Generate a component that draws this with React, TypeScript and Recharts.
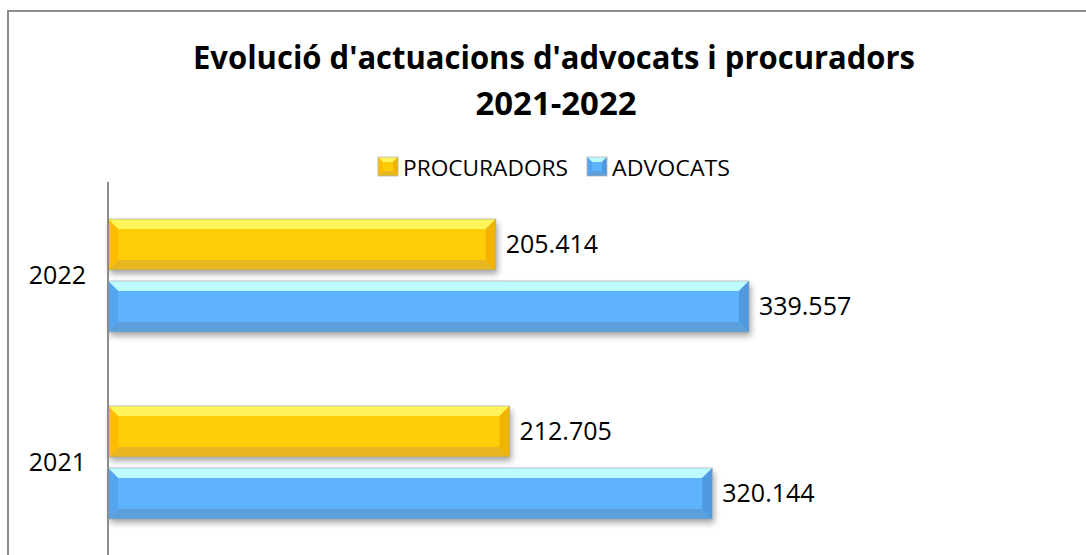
import { Bar, BarChart, LabelList, Legend, XAxis, YAxis } from "recharts";

const years = ["2022", "2021"];
const procuradors = [205414, 212705];
const advocats = [339557, 320144];
const xTicks = [0, 100000, 200000, 300000, 400000];
const seriesOrder = ["procuradors", "advocats"];

const data = years.map((year, i) => ({ year, procuradors: procuradors[i], advocats: advocats[i] }));

const palettes: Record<string, any> = {
  procuradors: { main: "#FFCC08", top: "#FFF45A", bottom: "#E8B61E", left: "#FFBC00", right: "#F0B400" },
  advocats: { main: "#5FB3FD", top: "#BDFCFF", bottom: "#5B9FDD", left: "#55A4EE", right: "#4E99DF" },
};

const legendWidths: Record<string, number> = { PROCURADORS: 165, ADVOCATS: 118 };

const fontFamily = "'Open Sans', 'Noto Sans', sans-serif";

const fmt = (v: any) => String(v).replace(/\B(?=(\d{3})+(?!\d))/g, ".");

function bevelPaths(x: number, y: number, w: number, h: number, b: number) {
  return {
    top: `M${x},${y}L${x + w},${y}L${x + w - b},${y + b}L${x + b},${y + b}Z`,
    bottom: `M${x},${y + h}L${x + w},${y + h}L${x + w - b},${y + h - b}L${x + b},${y + h - b}Z`,
    left: `M${x},${y}L${x + b},${y + b}L${x + b},${y + h - b}L${x},${y + h}Z`,
    right: `M${x + w},${y}L${x + w - b},${y + b}L${x + w - b},${y + h - b}L${x + w},${y + h}Z`,
  };
}

function BevelBar(props: any) {
  const { x, y, width, height, pal } = props;
  if (!width || !height) return null;
  const b = 10;
  const p = bevelPaths(x, y, width, height, b);
  return (
    <g>
      <rect x={x} y={y} width={width} height={height} fill="#fff" filter="url(#barShadow)" />
      <rect x={x} y={y} width={width} height={height} fill={pal.main} />
      <path d={p.top} fill={pal.top} />
      <path d={p.bottom} fill={pal.bottom} />
      <path d={p.left} fill={pal.left} />
      <path d={p.right} fill={pal.right} />
      <rect x={x} y={y} width={width} height={height} fill="none" stroke="#9aa7ad" strokeOpacity={0.6} strokeWidth={1} />
    </g>
  );
}

function LegendContent(props: any) {
  const items = [...(props.payload || [])].sort(
    (a: any, b: any) => seriesOrder.indexOf(a.dataKey) - seriesOrder.indexOf(b.dataKey)
  );
  let cx = 378;
  return (
    <div style={{ position: "relative", height: 0 }}>
      <svg width={1086} height={40} style={{ position: "absolute", left: 0, top: 150 }}>
        {items.map((it: any) => {
          const pal = palettes[it.dataKey];
          const tw = legendWidths[it.value] || 120;
          const x0 = cx;
          cx += 20 + 5 + tw + 19;
          const p = bevelPaths(x0, 7, 20, 19, 5);
          return (
            <g key={it.value}>
              <rect x={x0} y={7} width={20} height={19} fill={pal.main} />
              <path d={p.top} fill={pal.top} />
              <path d={p.bottom} fill={pal.bottom} />
              <path d={p.left} fill={pal.left} />
              <path d={p.right} fill={pal.right} />
              <rect x={x0} y={7} width={20} height={19} fill="none" stroke="#b5b5b5" strokeWidth={0.8} />
              <text
                x={x0 + 25}
                y={26}
                fontSize={22}
                fontFamily={fontFamily}
                fill="#000"
                textLength={tw}
                lengthAdjust="spacingAndGlyphs"
              >
                {it.value}
              </text>
            </g>
          );
        })}
      </svg>
    </div>
  );
}

export default function App() {
  return (
    <div style={{ position: "absolute", left: 0, top: 0, width: 1086, height: 555, overflow: "hidden", background: "#fff" }}>
      <div
        style={{
          position: "absolute",
          left: 7,
          top: 10,
          width: 1200,
          height: 700,
          borderLeft: "2px solid #8c8c8c",
          borderTop: "2px solid #8c8c8c",
        }}
      />
      <svg width={1086} height={130} style={{ position: "absolute", left: 0, top: 0 }}>
        <text
          x={554}
          y={69}
          textAnchor="middle"
          fontSize={32}
          fontWeight={700}
          fontFamily={fontFamily}
          textLength={722}
          lengthAdjust="spacingAndGlyphs"
        >
          Evolució d'actuacions d'advocats i procuradors
        </text>
        <text
          x={556}
          y={115}
          textAnchor="middle"
          fontSize={32}
          fontWeight={700}
          fontFamily={fontFamily}
          textLength={161}
          lengthAdjust="spacingAndGlyphs"
        >
          2021-2022
        </text>
      </svg>
      <div style={{ position: "absolute", left: 0, top: 0 }}>
        <BarChart
          width={1086}
          height={556}
          data={data}
          layout="vertical"
          margin={{ top: 182, right: 223, bottom: 0, left: 0 }}
          barSize={51}
          barGap={11}
        >
          <defs>
            <filter id="barShadow" x="-5%" y="-20%" width="110%" height="160%">
              <feDropShadow dx={2} dy={4} stdDeviation={3} floodColor="#000" floodOpacity={0.35} />
            </filter>
          </defs>
          <XAxis type="number" domain={[0, 400000]} ticks={xTicks} hide />
          <YAxis
            type="category"
            dataKey="year"
            width={108}
            tickLine={false}
            tickMargin={16}
            axisLine={{ stroke: "#8c8c8c", strokeWidth: 2 }}
            tick={{ fill: "#000", fontSize: 25, fontFamily }}
          />
          <Legend
            content={<LegendContent />}
            wrapperStyle={{ left: 0, top: 0, width: 1086 }}
          />
          <Bar
            dataKey="procuradors"
            name="PROCURADORS"
            fill={palettes.procuradors.main}
            isAnimationActive={false}
            shape={(p: any) => <BevelBar {...p} pal={palettes.procuradors} />}
          >
            <LabelList dataKey="procuradors" position="right" offset={10} formatter={fmt} fill="#000" fontSize={25} fontFamily={fontFamily} />
          </Bar>
          <Bar
            dataKey="advocats"
            name="ADVOCATS"
            fill={palettes.advocats.main}
            isAnimationActive={false}
            shape={(p: any) => <BevelBar {...p} pal={palettes.advocats} />}
          >
            <LabelList dataKey="advocats" position="right" offset={10} formatter={fmt} fill="#000" fontSize={25} fontFamily={fontFamily} />
          </Bar>
        </BarChart>
      </div>
    </div>
  );
}
